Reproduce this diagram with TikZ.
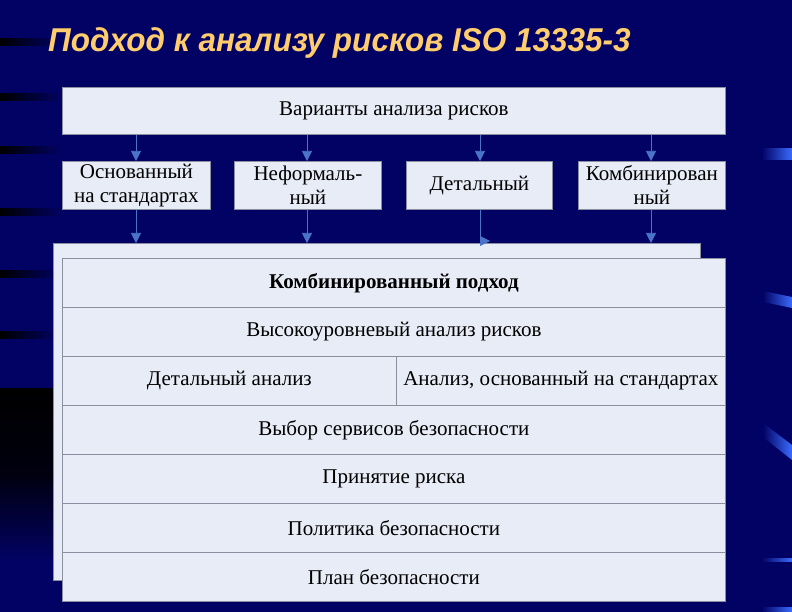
\documentclass[tikz,border=0pt]{standalone}
\usepackage{fontspec}
\setmainfont{Liberation Serif}
\newfontfamily\titlefont{Liberation Sans}
\usetikzlibrary{arrows.meta}
\definecolor{bgnavy}{HTML}{020264}
\definecolor{boxfill}{HTML}{E8ECF6}
\definecolor{boxline}{HTML}{8A8FA0}
\definecolor{arrowblue}{HTML}{4A74C8}
\definecolor{titlegold}{HTML}{FFCC6E}
\definecolor{barblue}{HTML}{3A6CFF}
\tikzset{
  cell/.style={draw=boxline, line width=0.8pt, fill=boxfill, inner sep=0pt, font=\fontsize{21}{24}\selectfont, align=center},
  conn/.style={draw=arrowblue, line width=0.7pt, -{Triangle[length=10pt,width=10pt]}},
  streak/.style={left color=black, right color=bgnavy, draw=none},
  bar/.style={left color=bgnavy, right color=barblue, draw=none},
}
\begin{document}
\begin{tikzpicture}[x=1pt,y=-1pt]
\useasboundingbox (0,0) rectangle (792,612);
% background
\fill[bgnavy] (0,0) rectangle (792,612);
\shade[top color=black, bottom color=bgnavy, middle color=black!85!bgnavy] (0,388) rectangle (60,560);
% left streaks
\foreach \yy/\hh/\ll in {42/7/60, 97/7/62, 150/7/62, 212/7/62, 274/7/60, 335/7/58}{
  \shade[streak] (0,\yy-\hh/2) rectangle (\ll,\yy+\hh/2);
}
% right bars
\shade[bar] (762,149) rectangle (792,160);
\shade[bar] (763,291) -- (792,297) -- (792,308) -- (763,302) -- cycle;
\shade[bar] (763,423) -- (792,445) -- (792,460) -- (763,437) -- cycle;
\shade[bar] (762,558) rectangle (792,561);
\shade[bar] (762,607) rectangle (792,612);
% title
\node[anchor=base west, inner sep=0pt, text=titlegold, xscale=0.955, font=\titlefont\bfseries\itshape\fontsize{33}{36}\selectfont] (title) at (48,52) {Подход к анализу рисков ISO 13335-3};
% top box
\node[cell, minimum width=663pt, minimum height=47pt, anchor=north west] (top) at (62,87) {Варианты анализа рисков};
% row of options
\node[cell, minimum width=148pt, minimum height=48pt, anchor=north west] (o1) at (62,161) {Основанный\\на стандартах};
\node[cell, minimum width=147pt, minimum height=48pt, anchor=north west] (o2) at (234,161) {Неформаль-\\ный};
\node[cell, minimum width=146pt, minimum height=48pt, anchor=north west] (o3) at (406,161) {Детальный};
\node[cell, minimum width=147pt, minimum height=48pt, anchor=north west] (o4) at (578,161) {Комбинирован\\ный};
% back frame
\node[cell, minimum width=647pt, minimum height=337pt, anchor=north west] (back) at (53,243) {};
% table rows
\node[cell, minimum width=663pt, minimum height=49pt, anchor=north west, font=\bfseries\fontsize{21}{24}\selectfont] (r1) at (62,258) {Комбинированный подход};
\node[cell, minimum width=663pt, minimum height=49pt, anchor=north west] (r2) at (62,307) {Высокоуровневый анализ рисков};
\node[cell, minimum width=334pt, minimum height=49pt, anchor=north west] (r3a) at (62,356) {Детальный анализ};
\node[cell, minimum width=329pt, minimum height=49pt, anchor=north west] (r3b) at (396,356) {Анализ, основанный на стандартах};
\node[cell, minimum width=663pt, minimum height=49pt, anchor=north west] (r4) at (62,405) {Выбор сервисов безопасности};
\node[cell, minimum width=663pt, minimum height=49pt, anchor=north west] (r5) at (62,454) {Принятие риска};
\node[cell, minimum width=663pt, minimum height=49pt, anchor=north west] (r6) at (62,503) {Политика безопасности};
\node[cell, minimum width=663pt, minimum height=49pt, anchor=north west] (r7) at (62,552) {План безопасности};
% connectors
\draw[conn] (top.south -| 136,0) -- (o1.north -| 136,0);
\draw[conn] (top.south -| 307,0) -- (o2.north -| 307,0);
\draw[conn] (top.south -| 480,0) -- (o3.north -| 480,0);
\draw[conn] (top.south -| 651,0) -- (o4.north -| 651,0);
\draw[conn] (o1.south -| 136,0) -- (back.north -| 136,0);
\draw[conn] (o2.south -| 307,0) -- (back.north -| 307,0);
\draw[conn] (o4.south -| 651,0) -- (back.north -| 651,0);
\coordinate (dturn) at (480,241);
\draw[conn] (o3.south -| 480,0) -- (dturn) -- ++(10,0);
\end{tikzpicture}
\end{document}
